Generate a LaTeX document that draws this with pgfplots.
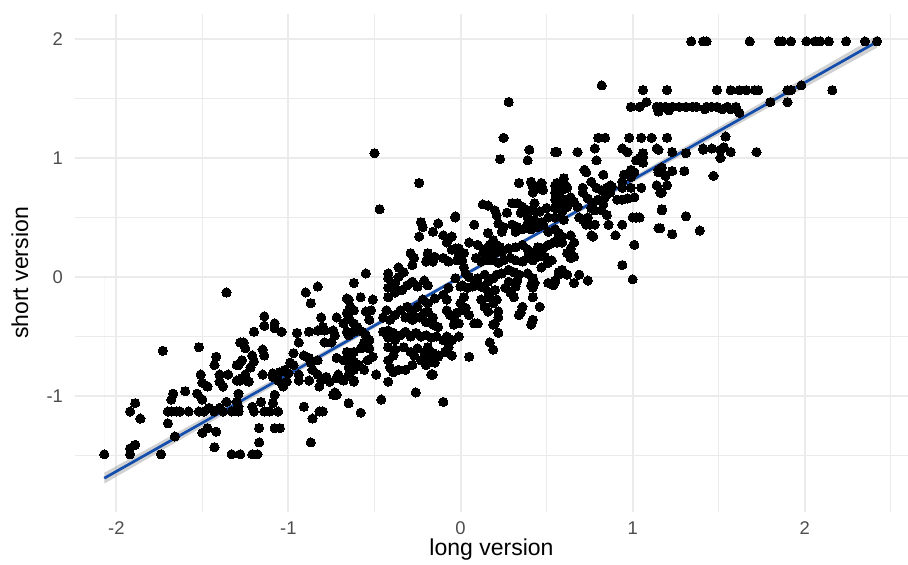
\documentclass[border=0pt]{standalone}
\usepackage{fontspec}
\setmainfont{Liberation Sans}
\usepackage{pgfplots}
\pgfplotsset{compat=1.18}
\definecolor{gridgray}{RGB}{235,235,235}
\definecolor{ticklab}{RGB}{77,77,77}
\definecolor{fitblue}{RGB}{20,78,172}
\definecolor{bandgray}{RGB}{153,153,153}

\begin{document}
\begin{tikzpicture}
\path[use as bounding box] (-37.5pt,-26pt) rectangle (416.5pt,256pt);
\begin{axis}[
    at={(0,0)}, anchor=south west,
    scale only axis,
    width=416.5pt, height=249pt,
    xmin=-2.24, xmax=2.60,
    ymin=-1.975, ymax=2.21,
    axis line style={draw=none},
    tick style={draw=none},
    xtick={-2,-1,0,1,2},
    ytick={-1,0,1,2},
    minor xtick={-1.5,-0.5,0.5,1.5,2.5},
    minor ytick={-1.5,-0.5,0.5,1.5},
    grid=both,
    major grid style={gridgray, line width=1pt},
    minor grid style={gridgray, line width=0.5pt},
    /pgf/number format/assume math mode=true,
    tick label style={font=\fontsize{9.2}{11}\selectfont, text=ticklab},
    xticklabel style={yshift=-1.2pt},
    yticklabel style={xshift=-2.5pt},
    xlabel={long version},
    ylabel={short version},
    label style={font=\fontsize{11.5}{13}\selectfont},
    xlabel style={at={(axis description cs:0.5,-0.0763)}, anchor=center},
    ylabel style={at={(axis description cs:-0.066,0.48)}, anchor=center},
    clip=false,
]

\addplot[only marks, mark=*, mark size=2.3pt, mark options={fill=black, draw=black, line width=0pt}] coordinates {
% left
(-1.73,-0.62) (-1.52,-0.59) (-1.42,-0.67) (-1.43,-0.74) (-1.30,-0.74) (-1.28,-0.55) (-1.51,-0.82) (-1.40,-0.82)
(-1.35,-0.82) (-1.50,-0.89) (-1.47,-0.92) (-1.40,-0.88) (-1.38,-0.92) (-1.28,-0.87) (-1.60,-0.96) (-1.67,-0.98)
(-1.53,-0.98) (-1.29,-0.98) (-1.68,-1.03) (-1.50,-1.03) (-1.89,-1.06) (-1.92,-1.13) (-1.86,-1.19) (-1.70,-1.13)
(-1.68,-1.13) (-1.65,-1.13) (-1.63,-1.13) (-1.58,-1.13) (-1.52,-1.13) (-1.49,-1.13) (-1.46,-1.10) (-1.43,-1.13)
(-1.40,-1.10) (-1.38,-1.13) (-1.36,-1.05) (-1.33,-1.13) (-1.29,-1.13) (-1.70,-1.23) (-1.47,-1.27) (-1.50,-1.31)
(-1.42,-1.30) (-1.66,-1.34) (-1.89,-1.41) (-1.92,-1.44) (-1.43,-1.43) (-2.07,-1.49) (-1.92,-1.49) (-1.74,-1.49)
(-1.28,-1.49) (-1.33,-1.49) (-1.36,-0.13)
% left-centre
(-0.83,-0.08) (-0.90,-0.13) (-0.87,-0.22) (-0.65,-0.19) (-0.64,-0.25) (-1.14,-0.33) (-1.14,-0.41) (-1.08,-0.39)
(-1.08,-0.43) (-1.04,-0.46) (-1.20,-0.46) (-0.95,-0.47) (-0.81,-0.34) (-0.80,-0.42) (-0.83,-0.45) (-0.88,-0.46)
(-0.79,-0.45) (-0.74,-0.45) (-0.72,-0.34) (-0.68,-0.39) (-0.73,-0.49) (-1.26,-0.55) (-1.25,-0.60) (-1.21,-0.66)
(-1.20,-0.71) (-1.22,-0.76) (-1.15,-0.61) (-1.14,-0.66) (-1.27,-0.70) (-1.29,-0.74) (-0.94,-0.55) (-0.97,-0.64)
(-0.99,-0.72) (-0.97,-0.74) (-0.91,-0.66) (-0.88,-0.68) (-0.87,-0.72) (-0.83,-0.70) (-0.79,-0.55) (-0.75,-0.55)
(-0.72,-0.68) (-0.68,-0.70) (-0.65,-0.67) (-0.62,-0.63) (-1.30,-0.87) (-1.27,-0.85) (-1.25,-0.82) (-1.24,-0.87)
(-1.23,-0.88) (-1.15,-0.82) (-1.09,-0.81) (-1.05,-0.80) (-1.02,-0.78) (-1.00,-0.81) (-1.09,-0.84) (-1.06,-0.87)
(-1.03,-0.92) (-1.01,-0.88) (-0.94,-0.82) (-0.94,-0.87) (-0.88,-0.87) (-0.86,-0.78) (-0.83,-0.82) (-0.81,-0.87)
(-0.82,-0.92) (-0.78,-0.84) (-0.76,-0.88) (-0.72,-0.85) (-0.71,-0.82) (-0.74,-0.99) (-0.72,-0.99) (-0.68,-0.87)
(-0.65,-0.82) (-0.62,-0.87) (-1.08,-0.99) (-1.30,-1.05) (-1.29,-1.09) (-1.21,-1.09) (-1.20,-1.13) (-1.16,-1.05)
(-1.14,-1.13) (-1.11,-1.13) (-1.09,-1.06) (-1.06,-1.13) (-0.91,-1.09) (-0.86,-1.19) (-0.82,-1.13) (-0.80,-1.13)
(-0.65,-1.06) (-1.17,-1.27) (-1.17,-1.39) (-1.08,-1.27) (-1.05,-1.27) (-0.87,-1.39) (-1.21,-1.49) (-1.18,-1.49)
% centre-left
(-0.47,0.57) (-0.03,0.51) (-0.23,0.46) (-0.22,0.42) (-0.24,0.34) (-0.13,0.45) (-0.16,0.38) (-0.10,0.35)
(-0.05,0.34) (-0.08,0.29) (-0.05,0.23) (-0.01,0.24) (0.02,0.20) (-0.29,0.20) (-0.27,0.16) (-0.28,0.10)
(-0.19,0.20) (-0.19,0.16) (-0.20,0.13) (-0.15,0.17) (-0.16,0.13) (-0.10,0.16) (-0.07,0.13) (-0.36,0.08)
(-0.33,0.04) (-0.36,0.00) (-0.55,0.03) (-0.42,0.03) (-0.42,-0.01) (-0.62,-0.05) (-0.66,-0.18) (-0.58,-0.17)
(-0.51,-0.19) (-0.42,-0.09) (-0.39,-0.08) (-0.38,-0.05) (-0.42,-0.17) (-0.38,-0.13) (-0.34,-0.11) (-0.31,-0.07)
(-0.28,-0.04) (-0.25,-0.08) (-0.21,-0.03) (-0.19,-0.07) (-0.22,-0.19) (-0.19,-0.22) (-0.15,-0.18) (-0.10,-0.15)
(-0.08,-0.19) (-0.07,-0.09) (-0.03,-0.01) (0.00,-0.08) (0.02,-0.17) (-0.66,-0.30) (-0.65,-0.34) (-0.62,-0.28)
(-0.62,-0.39) (-0.60,-0.42) (-0.55,-0.29) (-0.52,-0.28) (-0.53,-0.36) (-0.43,-0.28) (-0.45,-0.34) (-0.41,-0.36)
(-0.38,-0.32) (-0.35,-0.28) (-0.31,-0.25) (-0.28,-0.29) (-0.25,-0.25) (-0.32,-0.34) (-0.28,-0.36) (-0.24,-0.34)
(-0.21,-0.30) (-0.19,-0.29) (-0.16,-0.34) (-0.20,-0.38) (-0.16,-0.40) (-0.13,-0.42) (-0.08,-0.28) (-0.06,-0.32)
(-0.04,-0.34) (-0.04,-0.40) (-0.01,-0.39) (0.01,-0.28) (-0.66,-0.46) (-0.65,-0.49) (-0.62,-0.46) (-0.57,-0.46)
(-0.55,-0.49) (-0.53,-0.53) (-0.56,-0.55) (-0.58,-0.60) (-0.53,-0.60) (-0.45,-0.46) (-0.42,-0.45) (-0.39,-0.47)
(-0.42,-0.51) (-0.38,-0.53) (-0.35,-0.49) (-0.32,-0.46) (-0.29,-0.50) (-0.26,-0.47) (-0.23,-0.50) (-0.20,-0.49)
(-0.17,-0.51) (-0.14,-0.50) (-0.10,-0.53) (-0.08,-0.50) (-0.05,-0.53) (-0.01,-0.50) (-0.42,-0.59) (-0.38,-0.61)
(-0.39,-0.66) (-0.33,-0.59) (-0.29,-0.63) (-0.27,-0.66) (-0.25,-0.60) (-0.21,-0.63) (-0.19,-0.59) (-0.16,-0.64)
(-0.13,-0.66) (-0.09,-0.63) (-0.07,-0.59) (-0.05,-0.66) (-0.66,-0.63) (-0.65,-0.67) (-0.62,-0.71) (-0.65,-0.76)
(-0.62,-0.78) (-0.59,-0.74) (-0.56,-0.78) (-0.54,-0.70) (-0.51,-0.67) (-0.42,-0.70) (-0.41,-0.76) (-0.39,-0.80)
(-0.36,-0.78) (-0.32,-0.78) (-0.28,-0.74) (-0.23,-0.70) (-0.20,-0.74) (-0.19,-0.68) (-0.15,-0.72) (-0.13,-0.67)
(-0.49,-0.82) (-0.42,-0.88) (-0.16,-0.82) (-0.62,-0.88) (-0.26,-0.97) (-0.46,-1.03) (-0.10,-1.05) (-0.65,-1.06)
(-0.50,1.04) (-0.24,0.79) (-0.73,-0.97) (-0.58,-1.14) (-0.17,-0.82)
% centre-right
(0.25,1.17) (0.23,0.99) (0.40,1.07) (0.39,0.98) (0.56,1.05) (0.34,0.79) (0.41,0.80) (0.42,0.76)
(0.42,0.71) (0.45,0.75) (0.48,0.73) (0.47,0.79) (0.56,0.79) (0.55,0.71) (0.59,0.73) (0.13,0.61)
(0.16,0.60) (0.20,0.56) (0.21,0.52) (0.27,0.54) (0.30,0.62) (0.33,0.62) (0.36,0.59) (0.39,0.56)
(0.35,0.54) (0.39,0.50) (0.43,0.62) (0.42,0.56) (0.46,0.55) (0.50,0.58) (0.51,0.50) (0.43,0.48)
(0.47,0.46) (0.55,0.65) (0.57,0.59) (0.59,0.55) (0.55,0.50) (0.60,0.48) (-0.03,0.50) (0.08,0.44)
(0.22,0.45) (0.25,0.42) (0.24,0.38) (0.30,0.44) (0.33,0.42) (0.32,0.38) (0.36,0.40) (0.39,0.45)
(0.41,0.40) (0.45,0.42) (0.48,0.44) (0.51,0.38) (0.55,0.40) (0.57,0.34) (0.54,0.29) (0.59,0.29)
(0.16,0.37) (0.19,0.31) (0.21,0.27) (0.23,0.25) (0.05,0.29) (0.10,0.27) (0.15,0.24) (0.17,0.27)
(0.13,0.20) (0.16,0.19) (0.20,0.20) (0.24,0.21) (0.28,0.24) (0.32,0.25) (0.36,0.27) (0.39,0.23)
(0.42,0.20) (0.45,0.25) (0.48,0.24) (0.51,0.27) (-0.03,0.24) (-0.01,0.19) (0.01,0.14) (-0.02,0.14)
(0.02,0.08) (0.09,0.16) (0.12,0.13) (0.16,0.14) (0.19,0.14) (0.22,0.12) (0.25,0.14) (0.29,0.16)
(0.32,0.14) (0.36,0.13) (0.39,0.16) (0.42,0.14) (0.45,0.17) (0.49,0.17) (0.51,0.12) (0.47,0.08)
(0.53,0.14) (0.59,0.06) (0.57,0.02) (0.03,0.03) (0.05,0.00) (0.08,-0.03) (0.10,-0.01) (0.14,0.02)
(0.16,-0.04) (0.19,-0.01) (0.21,0.02) (0.24,0.03) (0.28,0.06) (0.31,0.04) (0.34,0.02) (0.33,-0.03)
(0.28,-0.04) (0.39,0.03) (0.42,-0.01) (0.43,-0.05) (0.42,-0.09) (0.41,-0.07) (0.51,-0.05) (0.54,-0.07)
(0.55,-0.03) (0.01,-0.07) (0.04,-0.09) (0.07,-0.08) (0.12,-0.08) (0.14,-0.09) (0.17,-0.13) (0.16,-0.17)
(0.20,-0.11) (0.26,-0.09) (0.29,-0.13) (0.31,-0.17) (0.32,-0.08) (0.00,-0.22) (0.03,-0.26) (-0.02,-0.30)
(-0.03,-0.39) (0.05,-0.32) (0.12,-0.19) (0.14,-0.25) (0.19,-0.22) (0.21,-0.19) (0.22,-0.29) (0.22,-0.34)
(0.20,-0.39) (0.16,-0.29) (0.36,-0.25) (0.35,-0.30) (0.34,-0.32) (0.42,-0.17) (0.46,-0.25) (0.42,-0.36)
(0.41,-0.40) (0.08,-0.39) (0.10,-0.39) (0.19,-0.40) (0.22,-0.47) (0.17,-0.55) (0.19,-0.61) (0.05,-0.67)
(0.28,1.47)
% right
(0.80,1.17) (0.84,1.17) (0.98,1.17) (1.05,1.17) (1.11,1.17) (0.55,1.05) (0.68,1.05) (0.78,1.08)
(0.79,0.98) (0.94,1.08) (0.97,1.05) (1.06,1.04) (1.04,1.00) (1.02,0.98) (1.06,0.96) (1.14,1.08)
(0.72,0.90) (0.73,0.88) (0.83,0.86) (0.99,0.90) (1.01,0.88) (0.95,0.86) (0.99,0.84) (1.15,0.90)
(1.17,0.92) (0.60,0.83) (0.58,0.79) (0.61,0.77) (0.62,0.75) (0.55,0.77) (0.71,0.71) (0.71,0.75)
(0.76,0.80) (0.79,0.75) (0.82,0.73) (0.85,0.75) (0.87,0.77) (0.88,0.76) (0.94,0.80) (0.94,0.75)
(0.99,0.75) (1.05,0.75) (1.14,0.77) (1.17,0.71) (0.55,0.71) (0.58,0.67) (0.61,0.65) (0.64,0.67)
(0.66,0.63) (0.68,0.59) (0.74,0.66) (0.77,0.62) (0.80,0.65) (0.83,0.61) (0.84,0.67) (0.87,0.71)
(0.91,0.65) (0.94,0.65) (0.97,0.66) (1.01,0.67) (0.55,0.58) (0.59,0.56) (0.60,0.61) (0.62,0.59)
(0.76,0.58) (0.78,0.56) (0.82,0.56) (0.69,0.50) (0.71,0.48) (0.74,0.50) (0.75,0.44) (0.73,0.44)
(0.78,0.44) (0.85,0.52) (0.86,0.44) (0.94,0.44) (1.00,0.50) (1.02,0.50) (1.16,0.41) (1.17,0.56)
(0.57,0.37) (0.59,0.34) (0.64,0.35) (0.56,0.29) (0.76,0.35) (0.77,0.34) (0.90,0.35) (0.66,0.29)
(0.64,0.24) (0.62,0.20) (0.64,0.16) (0.66,0.17) (1.01,0.27) (0.94,0.10) (0.57,0.04) (0.62,0.02)
(0.69,0.02) (0.66,-0.05) (0.74,-0.03) (0.55,-0.04) (1.00,-0.02) (0.99,1.43) (1.04,1.43) (1.08,1.47)
(1.14,1.43) (1.15,1.39) (1.06,1.57) (0.82,1.61)
% far right
(1.34,1.98) (1.41,1.98) (1.43,1.98) (1.68,1.98) (1.85,1.98) (1.87,1.98) (1.92,1.98) (2.01,1.98)
(2.06,1.98) (2.09,1.98) (2.14,1.98) (2.24,1.98) (2.35,1.98) (2.42,1.98)
(1.20,1.57) (1.49,1.57) (1.57,1.57) (1.62,1.57) (1.66,1.57) (1.71,1.57) (1.73,1.57) (2.16,1.57)
(1.90,1.57) (1.92,1.57) (1.98,1.61)
(1.16,1.43) (1.19,1.43) (1.21,1.40) (1.23,1.43) (1.27,1.43) (1.31,1.43) (1.35,1.43) (1.37,1.43)
(1.42,1.41) (1.43,1.43) (1.46,1.43) (1.49,1.43) (1.52,1.41) (1.55,1.43) (1.57,1.41) (1.60,1.43)
(1.62,1.38)
(1.80,1.47) (1.90,1.47) (1.20,1.17) (1.54,1.18) (1.53,1.09) (1.57,1.05) (1.23,1.05) (1.41,1.08)
(1.46,1.08) (1.72,1.05) (1.51,1.00) (1.06,1.01) (1.15,1.07) (1.31,1.04) (1.41,1.07) (1.51,1.07)
(1.47,0.85) (1.15,0.88) (1.19,0.85) (1.23,0.89) (1.30,0.89) (1.05,0.75) (1.14,0.77) (1.16,0.71)
(1.20,0.77) (1.17,0.57) (1.04,0.50) (1.31,0.51) (1.15,0.41) (1.23,0.36) (1.39,0.39)
};

% confidence band of the fitted line
\addplot[draw=none, fill=bandgray, fill opacity=0.45] coordinates {
(-2.07,-1.645) (-1.5,-1.190) (-1,-0.790) (-0.5,-0.388) (0,0.017) (0.5,0.427) (1,0.841) (1.5,1.258) (2,1.676) (2.42,2.027)
(2.42,1.927) (2,1.592) (1.5,1.193) (1,0.793) (0.5,0.390) (0,-0.017) (-0.5,-0.429) (-1,-0.844) (-1.5,-1.261) (-2.07,-1.737)
} \closedcycle;

% fitted line
\addplot[fitblue, line width=1.35pt] coordinates {(-2.07,-1.691) (2.42,1.977)};
\end{axis}
\end{tikzpicture}
\end{document}
